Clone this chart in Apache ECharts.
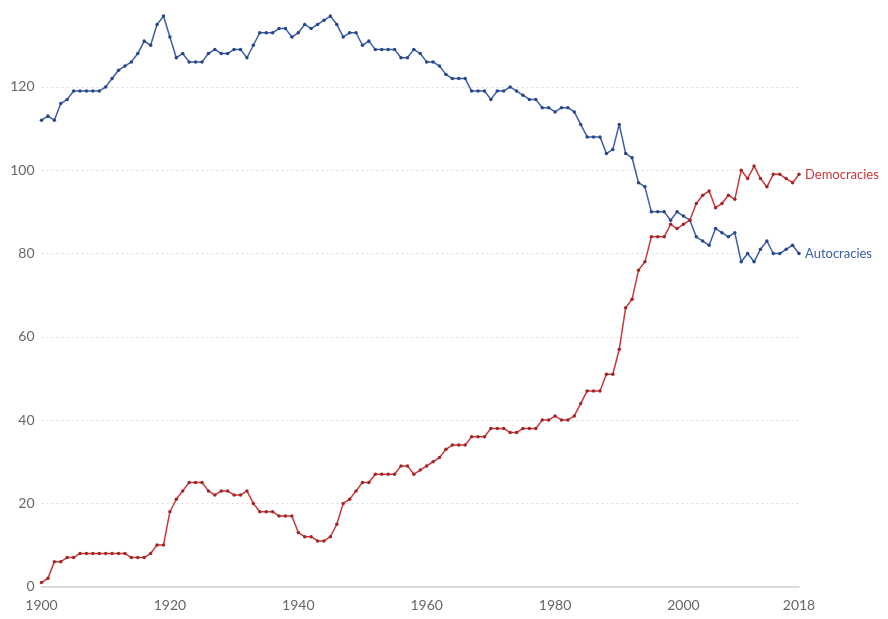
<!DOCTYPE html>
<html>
<head>
<meta charset="utf-8">
<script src="https://cdn.jsdelivr.net/npm/echarts@6/dist/echarts.min.js"></script>
<style>
html,body{margin:0;padding:0;background:#fff;}
#chart{width:888px;height:619px;}
</style>
</head>
<body>
<div id="chart"></div>
<script>
const startYear = 1900;
const endYear = 2018;
const xTickLabels = [1900, 1920, 1940, 1960, 1980, 2000, 2018];
const yTickLabels = [0, 20, 40, 60, 80, 100, 120];
const seriesNames = ['Democracies', 'Autocracies'];

const democracies = [
  1, 2, 6, 6, 7, 7, 8, 8, 8, 8,
  8, 8, 8, 8, 7, 7, 7, 8, 10, 10,
  18, 21, 23, 25, 25, 25, 23, 22, 23, 23,
  22, 22, 23, 20, 18, 18, 18, 17, 17, 17,
  13, 12, 12, 11, 11, 12, 15, 20, 21, 23,
  25, 25, 27, 27, 27, 27, 29, 29, 27, 28,
  29, 30, 31, 33, 34, 34, 34, 36, 36, 36,
  38, 38, 38, 37, 37, 38, 38, 38, 40, 40,
  41, 40, 40, 41, 44, 47, 47, 47, 51, 51,
  57, 67, 69, 76, 78, 84, 84, 84, 87, 86,
  87, 88, 92, 94, 95, 91, 92, 94, 93, 100,
  98, 101, 98, 96, 99, 99, 98, 97, 99
];

const autocracies = [
  112, 113, 112, 116, 117, 119, 119, 119, 119, 119,
  120, 122, 124, 125, 126, 128, 131, 130, 135, 137,
  132, 127, 128, 126, 126, 126, 128, 129, 128, 128,
  129, 129, 127, 130, 133, 133, 133, 134, 134, 132,
  133, 135, 134, 135, 136, 137, 135, 132, 133, 133,
  130, 131, 129, 129, 129, 129, 127, 127, 129, 128,
  126, 126, 125, 123, 122, 122, 122, 119, 119, 119,
  117, 119, 119, 120, 119, 118, 117, 117, 115, 115,
  114, 115, 115, 114, 111, 108, 108, 108, 104, 105,
  111, 104, 103, 97, 96, 90, 90, 90, 88, 90,
  89, 88, 84, 83, 82, 86, 85, 84, 85, 78,
  80, 78, 81, 83, 80, 80, 81, 82, 80
];

function pairs(values) {
  return values.map((v, i) => [startYear + i, v]);
}

const RED = '#c8383a';
const RED_DOT = '#a22628';
const BLUE = '#3b5ea6';
const BLUE_DOT = '#274788';
const FONT = 'Lato, "Open Sans", sans-serif';

const chart = echarts.init(document.getElementById('chart'));
chart.setOption({
  animation: false,
  backgroundColor: '#fff',
  grid: { left: 41.5, right: 89, top: 3.6, bottom: 32.3, containLabel: false },
  xAxis: {
    type: 'value',
    min: startYear,
    max: endYear,
    interval: 20,
    axisLine: { show: true, lineStyle: { color: '#cfcfcf', width: 1.5 } },
    axisTick: { show: false },
    splitLine: { show: false },
    axisLabel: {
      color: '#666',
      fontFamily: FONT,
      fontSize: 14,
      margin: 12,
      formatter: v => xTickLabels.includes(v) ? String(v) : ''
    }
  },
  yAxis: {
    type: 'value',
    min: 0,
    max: 140,
    interval: 20,
    axisLine: { show: false },
    axisTick: { show: false },
    splitLine: {
      show: true,
      showMinLine: false,
      showMaxLine: false,
      lineStyle: { color: '#dcdcdc', type: [2, 3], width: 1 }
    },
    axisLabel: {
      color: '#666',
      fontFamily: FONT,
      fontSize: 14,
      margin: 7,
      showMaxLabel: false,
      formatter: v => yTickLabels.includes(v) ? String(v) : ''
    }
  },
  series: [
    {
      name: seriesNames[0],
      type: 'line',
      data: pairs(democracies),
      symbol: 'circle',
      symbolSize: 3.5,
      showAllSymbol: true,
      lineStyle: { color: RED, width: 1.5 },
      itemStyle: { color: RED_DOT, borderWidth: 0 },
      endLabel: {
        show: true,
        formatter: seriesNames[0],
        color: RED,
        fontFamily: FONT,
        fontSize: 13,
        distance: 6
      },
      z: 3
    },
    {
      name: seriesNames[1],
      type: 'line',
      data: pairs(autocracies),
      symbol: 'circle',
      symbolSize: 3.5,
      showAllSymbol: true,
      lineStyle: { color: BLUE, width: 1.5 },
      itemStyle: { color: BLUE_DOT, borderWidth: 0 },
      endLabel: {
        show: true,
        formatter: seriesNames[1],
        color: BLUE,
        fontFamily: FONT,
        fontSize: 13,
        distance: 6
      },
      z: 2
    }
  ]
});
</script>
</body>
</html>
